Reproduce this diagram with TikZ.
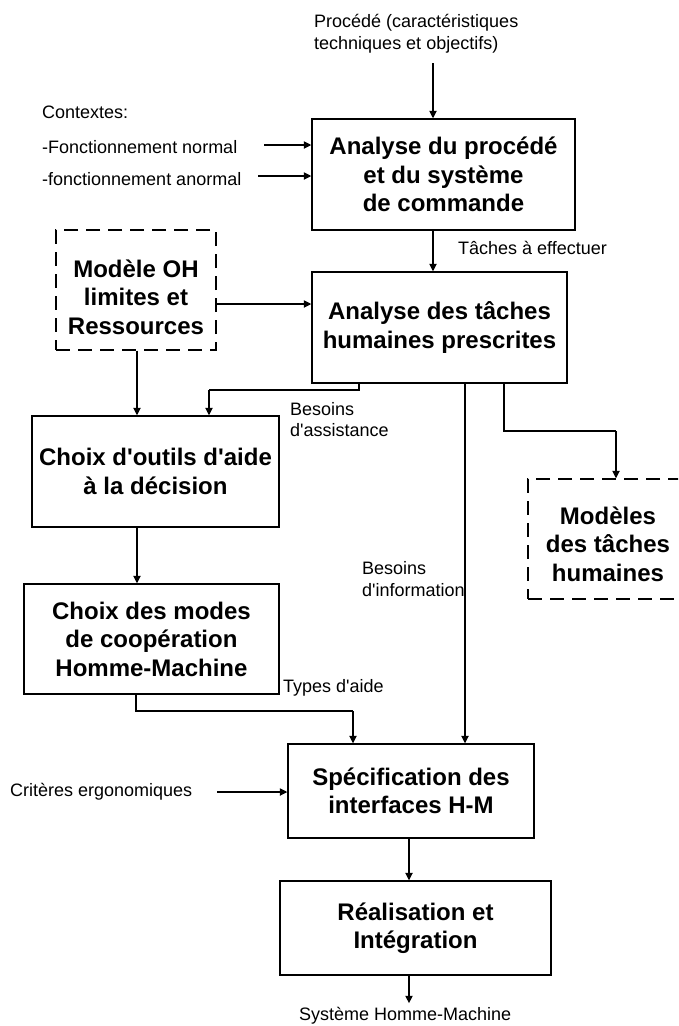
\documentclass[tikz,border=0pt]{standalone}
\usepackage{fontspec}
\setmainfont{Liberation Sans}[Ligatures=TeXOff]
\usetikzlibrary{arrows.meta}
\begin{document}
\begin{tikzpicture}[x=1pt,y=-1pt,
  box/.style={draw, line width=1.2pt, inner sep=0pt, align=center,
    font=\bfseries\fontsize{24}{28.5}\selectfont},
  dbox/.style={draw, line width=1.2pt, inner sep=0pt, dash pattern=on 14pt off 8pt},
  btext/.style={inner sep=0pt, align=center, font=\bfseries\fontsize{24}{28.5}\selectfont},
  lbl/.style={inner sep=0pt, anchor=west, align=left, font=\fontsize{18}{21.5}\selectfont},
  arr/.style={line width=2pt, -{Triangle[length=7.5pt,width=7pt]}},
  wire/.style={line width=1.2pt}
]
\useasboundingbox (0,0) rectangle (678,1026);
\clip (0,0) rectangle (678,1026);
\fill[white] (0,0) rectangle (678,1026);

% process boxes
\node[box, minimum width=263pt, minimum height=111pt] (A) at (443.5,174.5)
  {Analyse du procédé\\et du système\\de commande};
\node[box, minimum width=255pt, minimum height=111pt] (B) at (439.5,327.5)
  {Analyse des tâches\\humaines prescrites};
\node[dbox, minimum width=160pt, minimum height=120pt] (M) at (136,290) {};
\node[btext] (Mt) at (136,297) {Modèle OH\\limites et\\Ressources};
\node[box, minimum width=247pt, minimum height=111pt] (O) at (155.5,471.5)
  {Choix d'outils d'aide\\à la décision};
\node[box, minimum width=255pt, minimum height=110pt] (H) at (151.5,639)
  {Choix des modes\\de coopération\\Homme-Machine};
\node[dbox, minimum width=160pt, minimum height=120pt] (T) at (608,539) {};
\node[btext] (Tt) at (608,544) {Modèles\\des tâches\\humaines};
\node[box, minimum width=246pt, minimum height=94pt] (S) at (411,791)
  {Spécification des\\interfaces H-M};
\node[box, minimum width=271pt, minimum height=94pt] (R) at (415.5,928)
  {Réalisation et\\Intégration};

% free labels
\node[lbl] (proc) at (314,33.5) {Procédé (caractéristiques\\techniques et objectifs)};
\node[lbl] (ctx) at (42,112) {Contextes:};
\node[lbl] (norm) at (42,147) {-Fonctionnement normal};
\node[lbl] (anorm) at (42,179) {-fonctionnement anormal};
\node[lbl] (tach) at (458,248) {Tâches à effectuer};
\node[lbl] (bass) at (290,419.5) {Besoins\\d'assistance};
\node[lbl] (binf) at (362,579) {Besoins\\d'information};
\node[lbl] (types) at (283,688) {Types d'aide};
\node[lbl] (crit) at (10,792) {Critères ergonomiques};
\node[lbl] (out) at (299,1016) {Système Homme-Machine};

% guide coordinates for connector positions
\coordinate (procin) at (433,63);
\coordinate (n0) at (264,145);
\coordinate (a0) at (258,176);
\coordinate (ym) at (0,304);
\coordinate (xm) at (137,0);
\coordinate (xb1) at (359,0);
\coordinate (o1) at (209,390);
\coordinate (xi) at (465,0);
\coordinate (xb2) at (504,0);
\coordinate (t1) at (616,431);
\coordinate (xh) at (136,0);
\coordinate (s1) at (353,711);
\coordinate (c0) at (217,792);
\coordinate (xs) at (409,0);

% connectors
\draw[arr] (procin) -- (A.north -| procin);
\draw[arr] (n0) -- (A.west |- n0);
\draw[arr] (a0) -- (A.west |- a0);
\draw[arr] (A.south -| procin) -- (B.north -| procin);
\draw[arr] (M.east |- ym) -- (B.west |- ym);
\draw[arr] (M.south -| xm) -- (O.north -| xm);
\draw[wire] (B.south -| xb1) |- (o1);
\draw[arr] (o1) -- (O.north -| o1);
\draw[arr] (O.south -| xm) -- (H.north -| xm);
\draw[arr] (B.south -| xi) -- (S.north -| xi);
\draw[wire] (B.south -| xb2) |- (t1);
\draw[arr] (t1) -- (T.north -| t1);
\draw[wire] (H.south -| xh) |- (s1);
\draw[arr] (s1) -- (S.north -| s1);
\draw[arr] (c0) -- (S.west |- c0);
\draw[arr] (S.south -| xs) -- (R.north -| xs);
\draw[arr, shorten >=4pt] (R.south -| xs) -- (out.north -| xs);
\end{tikzpicture}
\end{document}
